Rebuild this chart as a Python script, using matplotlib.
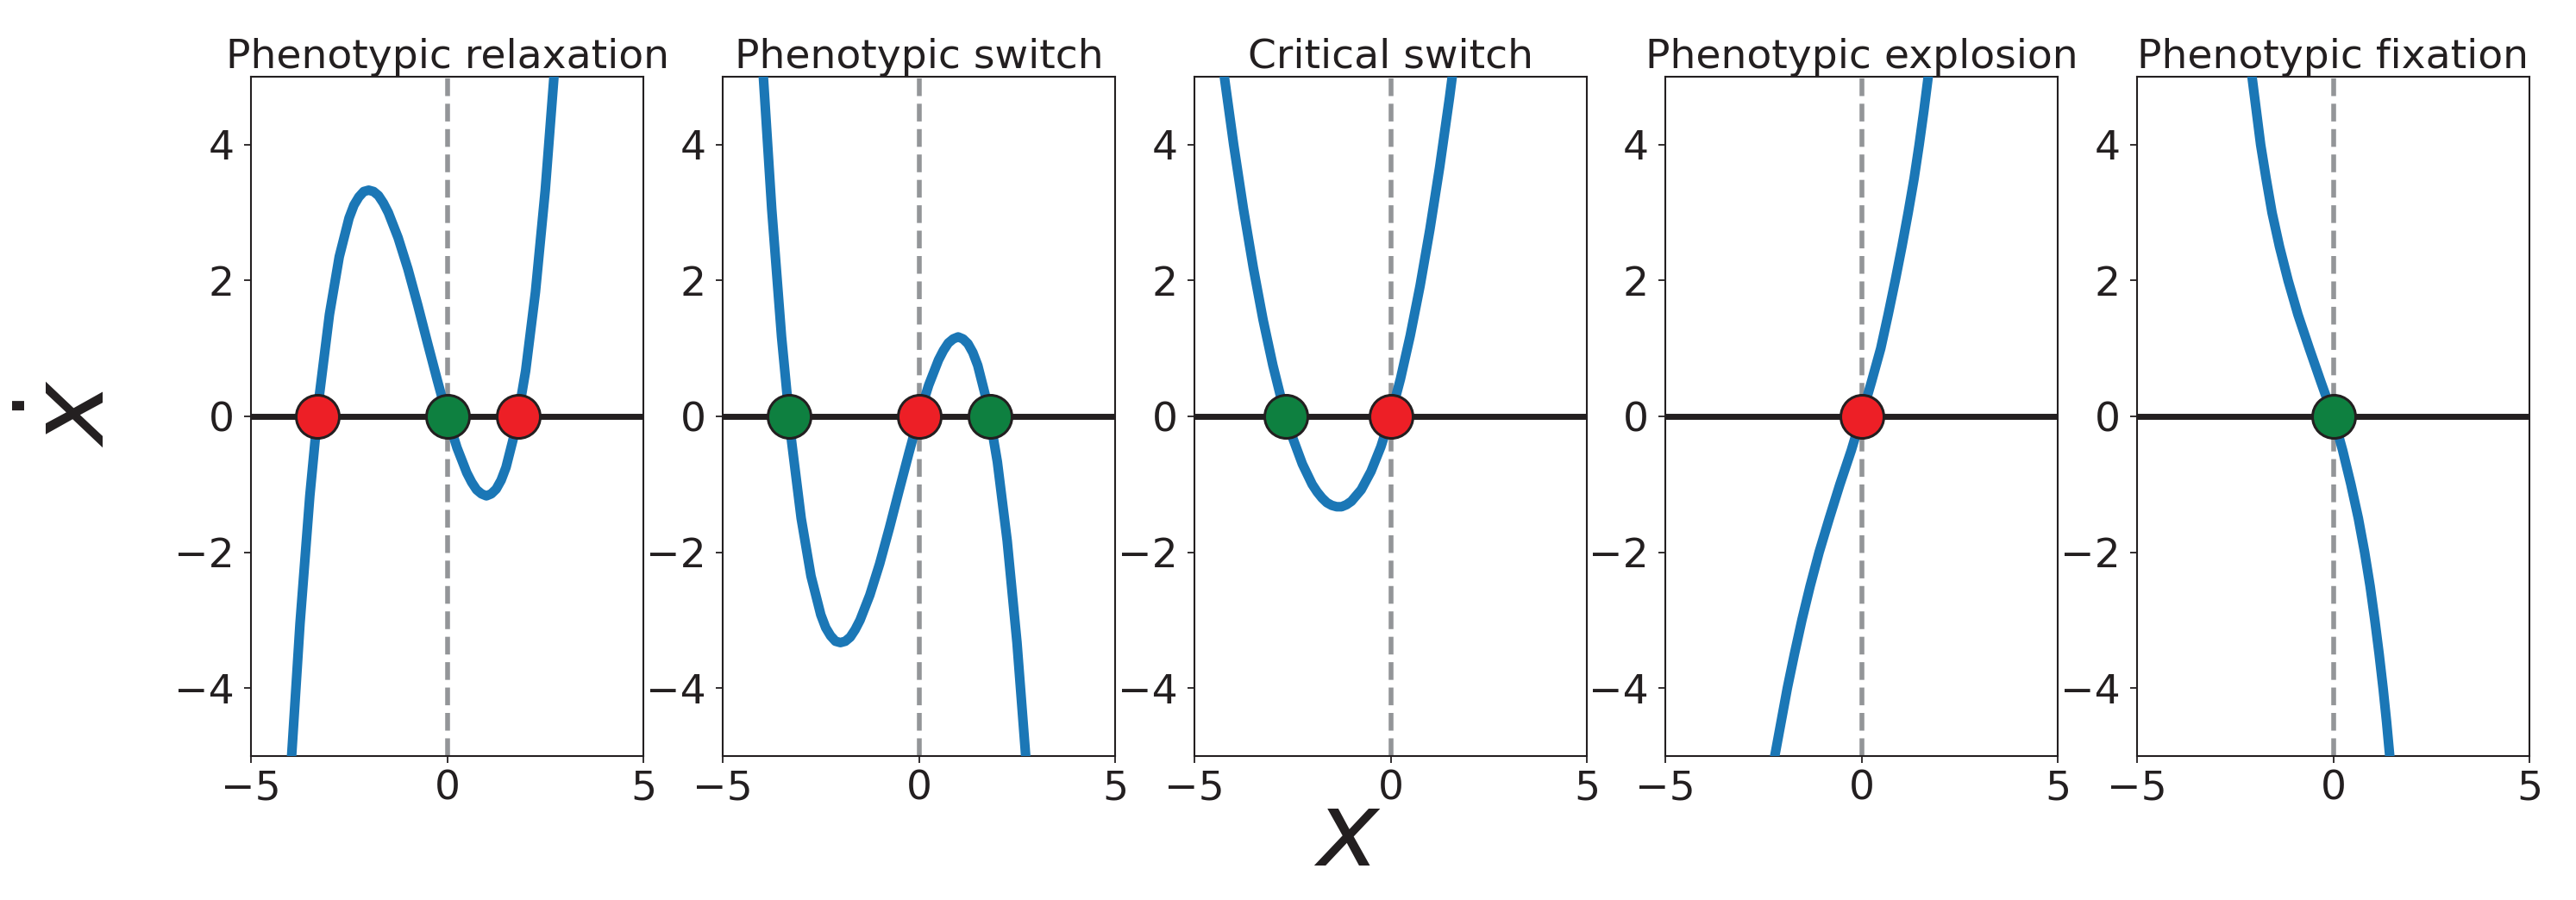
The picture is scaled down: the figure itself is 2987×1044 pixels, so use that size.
import matplotlib
matplotlib.use("Agg")
import matplotlib.pyplot as plt

# panel titles
titles = ["Phenotypic relaxation", "Phenotypic switch", "Critical switch",
          "Phenotypic explosion", "Phenotypic fixation"]

# curve samples (x, xdot)
x_relax = [-4.0, -3.75, -3.5, -3.25, -3.0, -2.75, -2.5, -2.375, -2.25, -2.125, -2.0,
           -1.875, -1.75, -1.625, -1.5, -1.25, -1.0, -0.75, -0.5, -0.25, 0.0, 0.25,
           0.5, 0.625, 0.75, 0.875, 1.0, 1.125, 1.25, 1.375, 1.5, 1.75, 2.0, 2.25,
           2.5, 2.75]
y_relax = [-5.33, -3.05, -1.17, 0.34, 1.5, 2.35, 2.92, 3.11, 3.23, 3.31, 3.33,
           3.31, 3.25, 3.14, 3.0, 2.63, 2.17, 1.64, 1.08, 0.53, 0.0, -0.46,
           -0.83, -0.97, -1.08, -1.14, -1.17, -1.14, -1.07, -0.94, -0.75, -0.18, 0.67, 1.83,
           3.33, 5.21]

x_switch = x_relax
y_switch = [5.33, 3.05, 1.17, -0.34, -1.5, -2.35, -2.92, -3.11, -3.23, -3.31, -3.33,
            -3.31, -3.25, -3.14, -3.0, -2.63, -2.17, -1.64, -1.08, -0.53, 0.0, 0.46,
            0.83, 0.97, 1.08, 1.14, 1.17, 1.14, 1.07, 0.94, 0.75, 0.18, -0.67, -1.83,
            -3.33, -5.21]

x_critical = [-4.5, -4.25, -4.0, -3.75, -3.5, -3.25, -3.0, -2.75, -2.5, -2.25, -2.0,
              -1.875, -1.75, -1.625, -1.5, -1.375, -1.25, -1.125, -1.0, -0.75, -0.5,
              -0.25, 0.0, 0.25, 0.5, 0.75, 1.0, 1.25, 1.5, 1.75]
y_critical = [6.19, 5.05, 4.0, 3.05, 2.19, 1.42, 0.75, 0.17, -0.31, -0.70, -1.0,
              -1.11, -1.20, -1.27, -1.31, -1.33, -1.33, -1.30, -1.25, -1.08, -0.81,
              -0.45, 0.0, 0.55, 1.19, 1.92, 2.75, 3.67, 4.69, 5.80]

x_explosion = [-2.36, -2.21, -2.05, -1.89, -1.71, -1.52, -1.31, -1.08, -0.82, -0.55, -0.26,
               0.0, 0.25, 0.49, 0.68, 0.86, 1.03, 1.19, 1.34, 1.47, 1.59, 1.70, 1.80]
y_explosion = [-5.5, -5.0, -4.5, -4.0, -3.5, -3.0, -2.5, -2.0, -1.5, -1.0, -0.5,
               0.0, 0.5, 1.0, 1.5, 2.0, 2.5, 3.0, 3.5, 4.0, 4.5, 5.0, 5.5]

x_fixation = [-2.17, -2.07, -1.96, -1.85, -1.71, -1.56, -1.37, -1.15, -0.90, -0.61, -0.31,
              0.0, 0.24, 0.45, 0.64, 0.80, 0.94, 1.06, 1.17, 1.27, 1.36, 1.44, 1.52]
y_fixation = [5.5, 5.0, 4.5, 4.0, 3.5, 3.0, 2.5, 2.0, 1.5, 1.0, 0.5,
              0.0, -0.5, -1.0, -1.5, -2.0, -2.5, -3.0, -3.5, -4.0, -4.5, -5.0, -5.5]

curves_x = [x_relax, x_switch, x_critical, x_explosion, x_fixation]
curves_y = [y_relax, y_switch, y_critical, y_explosion, y_fixation]

# fixed points
stable_pts = [[0.0], [-3.31, 1.81], [-2.67], [], [0.0]]
unstable_pts = [[-3.31, 1.81], [0.0], [0.0], [0.0], []]

xticks = [-5, 0, 5]
yticks = [-4, -2, 0, 2, 4]

ink = "#231f20"
blue = "#1b77b6"
red = "#ed1f26"
green = "#0e8040"
grey = "#939598"

fig = plt.figure(figsize=(29.87, 10.44), dpi=100)

W, H = 2987, 1044
ax_left = [291, 838, 1385, 1931, 2478]
ax_w = 455
ax_top, ax_bot = 89, 877

for i in range(5):
    ax = fig.add_axes([ax_left[i] / W, (H - ax_bot) / H, ax_w / W, (ax_bot - ax_top) / H])
    ax.axvline(0, color=grey, linestyle="--", linewidth=4, zorder=1)
    ax.axhline(0, color=ink, linewidth=5, zorder=2)
    ax.plot(curves_x[i], curves_y[i], color=blue, linewidth=8, zorder=3,
            solid_joinstyle="round")
    if stable_pts[i]:
        ax.plot(stable_pts[i], [0] * len(stable_pts[i]), "o", color=green,
                markersize=36, markeredgecolor=ink, markeredgewidth=2.2, zorder=4)
    if unstable_pts[i]:
        ax.plot(unstable_pts[i], [0] * len(unstable_pts[i]), "o", color=red,
                markersize=36, markeredgecolor=ink, markeredgewidth=2.2, zorder=4)
    ax.set_xlim(-5, 5)
    ax.set_ylim(-5, 5)
    ax.set_xticks(xticks)
    ax.set_yticks(yticks)
    ax.tick_params(axis="both", labelsize=34, length=6, width=1.3, colors=ink)
    ax.tick_params(axis="x", pad=5)
    ax.tick_params(axis="y", pad=8)
    for sp in ax.spines.values():
        sp.set_linewidth(1.5)
        sp.set_color(ink)
    ax.set_title(titles[i], fontsize=34, color=ink, pad=4)

fig.text(146 / W, 1 - 480 / H, r"$\dot{x}$", rotation=90, fontsize=88,
         ha="right", va="center", color=ink)
fig.text(1562 / W, 1 - 970 / H, r"$x$", fontsize=88, ha="center", va="center", color=ink)

fig.savefig("out.png", dpi=100)
